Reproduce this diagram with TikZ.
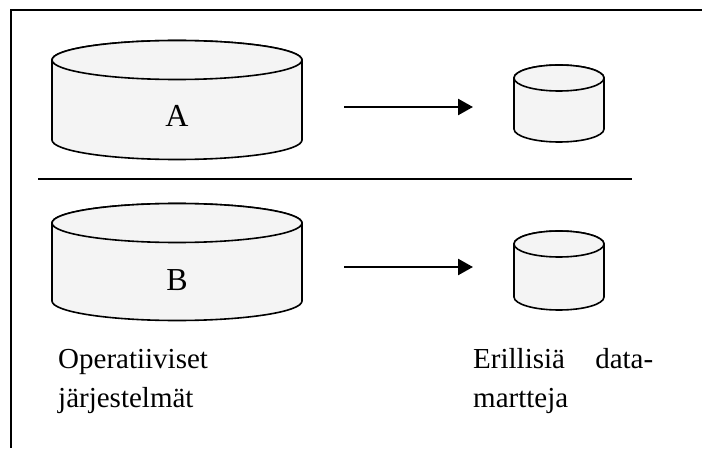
\documentclass[tikz,border=0pt]{standalone}
\usepackage{fontspec}
\setmainfont{Liberation Serif}
\usetikzlibrary{arrows.meta}

% database drum: name, centre x, top y, bottom y, x radius, y radius
\newcommand{\dbdrum}[6]{%
  \filldraw[drum] (#2-#5,#3) -- (#2-#5,#4)
    arc[start angle=180,end angle=360,x radius=#5,y radius=#6]
    -- (#2+#5,#3)
    arc[start angle=0,end angle=180,x radius=#5,y radius=#6] -- cycle;
  \draw[drum] (#2,#3) ellipse[x radius=#5,y radius=#6];
  \node[inner sep=0,minimum width=2*#5,minimum height=#3-#4+2*#6] (#1) at (#2,{(#3+#4)/2}) {};
}

\begin{document}
\begin{tikzpicture}[x=1pt,y=1pt,
  drum/.style={draw=black,fill=gray!9,line width=1.6pt},
  flow/.style={line width=2.6pt,-{Triangle[length=15pt,width=16pt]}},
  rule/.style={line width=1.8pt},
  caption/.style={font=\fontsize{29}{39}\selectfont,inner sep=0,anchor=base west},
  letter/.style={font=\fontsize{32}{36}\selectfont,inner sep=0}]
\useasboundingbox (0,0) rectangle (702,448);

% frame (top and left edges only) and the dividing rule
\draw[line width=2.2pt] (702,438) -- (11,438) -- (11,0);
\draw[rule] (38,269) -- (632,269);

% operational systems and data marts
\dbdrum{srcA}{177}{388}{308}{125}{19.5}
\dbdrum{srcB}{177}{225}{147}{125}{19.5}
\dbdrum{martA}{559}{370}{319}{45}{13}
\dbdrum{martB}{559}{204}{151}{45}{13}
\node[letter] (labA) at (177,332) {A};
\node[letter] (labB) at (177,168) {B};

% feeds
\coordinate (fromA) at (344,341);
\coordinate (toA) at (473,341);
\coordinate (fromB) at (344,181);
\coordinate (toB) at (473,181);
\draw[flow] (fromA) -- (toA);
\draw[flow] (fromB) -- (toB);

% captions (base of the left one is its last line)
\node[caption,align=left] (capSrc) at (58,41) {Operatiiviset\\järjestelmät};
\node[caption,text width=180pt,align=justify] (capMart) at (473,80) {Erillisiä data-\linebreak martteja};
\end{tikzpicture}
\end{document}
